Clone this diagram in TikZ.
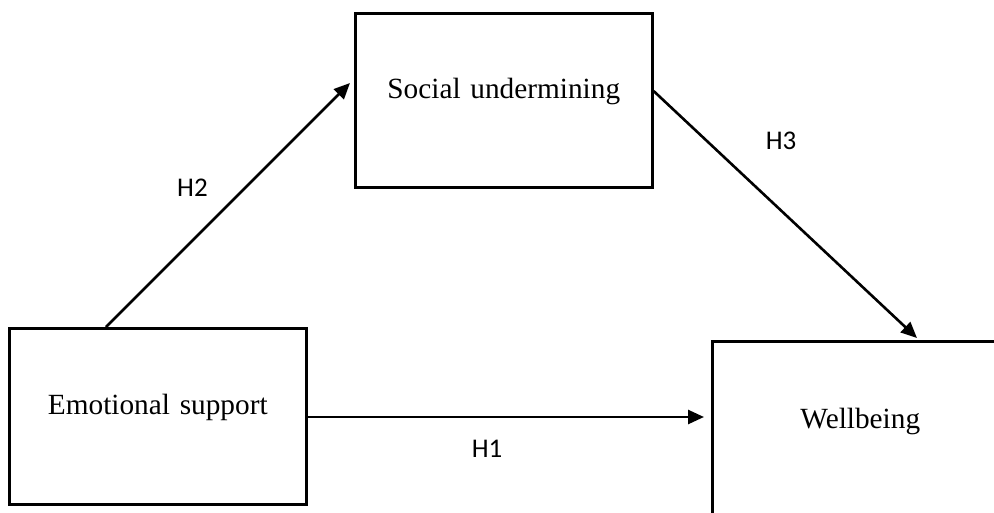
\documentclass[tikz,border=0pt]{standalone}
\usepackage{fontspec}
\setmainfont{Liberation Serif}
\newfontfamily\labelfont{Carlito}
\usetikzlibrary{arrows.meta,calc}
\begin{document}
\begin{tikzpicture}[x=1pt,y=-1pt,
  boxnode/.style={draw=black,line width=2.6pt,inner sep=0pt,align=center,
    font=\fontsize{29.3}{35}\selectfont},
  hlabel/.style={inner sep=0pt,font=\labelfont\fontsize{27}{32}\selectfont},
  conn/.style={line width=2.6pt,-{Triangle[length=16pt,width=14pt]}}]
\useasboundingbox (0,0) rectangle (994,512);
\clip (0,0) rectangle (994,512);
\node[boxnode,anchor=north west,text width=297pt,text height=85pt,text depth=89pt] (su) at (354,12) {Social undermining};
\node[boxnode,anchor=north west,text width=297pt,text height=86pt,text depth=90pt] (es) at (8,327) {Emotional support};
\node[boxnode,anchor=north west,text width=296pt,text height=87pt,text depth=95pt] (wb) at (711,340) {Wellbeing};
\draw[conn] ($(es.north west)+(98,0)$) -- ($(su.north west)+(-4,71)$);
\draw[conn] ($(su.north east)+(0,79)$) -- ($(wb.north west)+(206,-2)$);
\draw[conn] (es.east |- 0,417) -- ($(wb.north west)+(-7,77)$);
\node[hlabel] (h2) at (192.5,187.5) {H2};
\node[hlabel] (h3) at (781,141) {H3};
\node[hlabel] (h1) at (487,448.5) {H1};
\end{tikzpicture}
\end{document}
